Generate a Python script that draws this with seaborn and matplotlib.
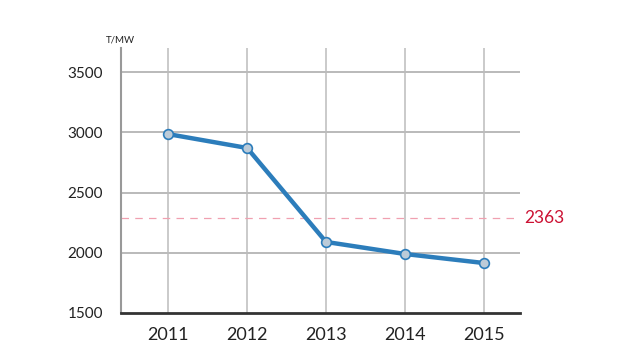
import matplotlib
matplotlib.use("Agg")
import matplotlib.pyplot as plt
import seaborn as sns
import pandas as pd

years = [2011, 2012, 2013, 2014, 2015]
values = [2985, 2870, 2090, 1990, 1915]
ref_pos = 2290
ref_label = "2363"
yticks = [1500, 2000, 2500, 3000, 3500]
unit = "T/MW"

sns.set_theme(style="white")
plt.rcParams['font.family'] = ['Lato', 'DejaVu Sans']

fig = plt.figure(figsize=(6.4, 3.6), dpi=100)
ax = fig.add_axes([121/640, 1-313/360, (520-121)/640, (313-48)/360])

df = pd.DataFrame({"year": years, "value": values})

for y in yticks[1:]:
    ax.axhline(y, color="#b4b4b4", lw=1.3, zorder=1)
for x in years:
    ax.axvline(x, color="#bcbcbc", lw=1.1, zorder=1)
ax.axhline(ref_pos, color="#f0a0b0", lw=0.9, ls=(0, (6, 5)), zorder=1)

sns.lineplot(data=df, x="year", y="value", ax=ax, color="#2c7dbb", lw=3.2,
             marker="o", markersize=7, markerfacecolor="#bccbd8",
             markeredgecolor="#2c7dbb", markeredgewidth=1.2, zorder=3)

ax.set_xlim(2010.4, 2015.46)
ax.set_ylim(1500, 3700)
ax.set_xticks(years)
ax.set_xticklabels([str(y) for y in years], fontsize=13, color="#222222")
ax.set_yticks(yticks)
ax.set_yticklabels([str(y) for y in yticks], fontsize=11, color="#222222")
ax.tick_params(axis="both", length=0)
ax.tick_params(axis="x", pad=10)
ax.tick_params(axis="y", pad=13)
ax.set_xlabel("")
ax.set_ylabel("")

for s in ["top", "right"]:
    ax.spines[s].set_visible(False)
ax.spines["left"].set_color("#999999")
ax.spines["left"].set_linewidth(1.5)
ax.spines["bottom"].set_color("#333333")
ax.spines["bottom"].set_linewidth(2)

ax.text(2015.51, ref_pos, ref_label, color="#cc1133", fontsize=12.5, va="center", ha="left", clip_on=False)
fig.text(120/640, 1-40/360, unit, fontsize=7, ha="center", va="center", color="#222222")

fig.savefig("out.png", dpi=100)
